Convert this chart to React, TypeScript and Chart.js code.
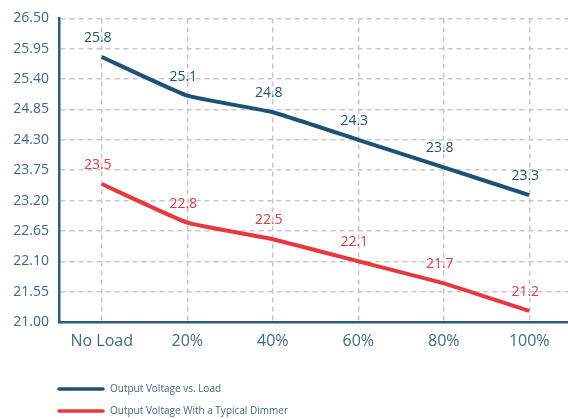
import React, { useEffect, useRef } from "react";
import { Chart, registerables } from "chart.js";

Chart.register(...registerables);

const categories = ["No Load", "20%", "40%", "60%", "80%", "100%"];
const loadSeries = [25.8, 25.1, 24.8, 24.3, 23.8, 23.3];
const dimmerSeries = [23.5, 22.8, 22.5, 22.1, 21.7, 21.2];
const seriesLabels = ["Output Voltage vs. Load", "Output Voltage With a Typical Dimmer"];
const yMin = 21.0;
const yMax = 26.5;
const yStep = 0.55;

const BLUE = "#1f5174";
const RED = "#e8383d";
const TEXT = "#41698a";
const AXIS = "#2e5d7e";
const FONT = "'Open Sans', sans-serif";

const labelPlugin = {
  id: "pointLabels",
  afterDatasetsDraw(chart: any) {
    const ctx = chart.ctx;
    ctx.save();
    ctx.font = `14px ${FONT}`;
    ctx.textAlign = "center";
    ctx.textBaseline = "middle";
    chart.data.datasets.forEach((ds: any, i: number) => {
      const meta = chart.getDatasetMeta(i);
      ctx.fillStyle = ds.borderColor;
      meta.data.forEach((pt: any, j: number) => {
        ctx.fillText(ds.data[j].toFixed(1), pt.x - 4, pt.y - 19);
      });
    });
    ctx.restore();
  },
};

const legendPlugin = {
  id: "stackLegend",
  afterDraw(chart: any) {
    const ctx = chart.ctx;
    ctx.save();
    ctx.font = `10px ${FONT}`;
    ctx.textBaseline = "middle";
    ctx.textAlign = "left";
    chart.data.datasets.forEach((ds: any, i: number) => {
      const y = 389 + i * 22;
      ctx.strokeStyle = ds.borderColor;
      ctx.lineWidth = 3.5;
      ctx.lineCap = "round";
      ctx.beginPath();
      ctx.moveTo(59, y);
      ctx.lineTo(103, y);
      ctx.stroke();
      ctx.fillStyle = TEXT;
      ctx.fillText(ds.label, 110, y);
    });
    ctx.restore();
  },
};

export default function App() {
  const ref = useRef<HTMLCanvasElement>(null);
  useEffect(() => {
    if (!ref.current) return;
    const chart = new Chart(ref.current, {
      type: "line",
      data: {
        labels: categories,
        datasets: [
          {
            label: seriesLabels[0],
            data: loadSeries,
            borderColor: BLUE,
            backgroundColor: BLUE,
            borderWidth: 4,
            pointRadius: 0,
            tension: 0.12,
          },
          {
            label: seriesLabels[1],
            data: dimmerSeries,
            borderColor: RED,
            backgroundColor: RED,
            borderWidth: 4,
            pointRadius: 0,
            tension: 0.12,
          },
        ],
      },
      options: {
        animation: false,
        responsive: false,
        maintainAspectRatio: false,
        layout: { padding: { top: 16, bottom: 57, left: 0, right: 0 } },
        plugins: { legend: { display: false }, tooltip: { enabled: false } },
        scales: {
          x: {
            offset: true,
            afterFit: (s: any) => {
              s.height = 40;
            },
            grid: {
              color: "#c8c8c8",
              lineWidth: 1.5,
              drawTicks: false,
              offset: false,
            },
            border: { color: AXIS, width: 2.5, dash: [5, 4] },
            ticks: { color: TEXT, font: { family: FONT, size: 16 }, padding: 10 },
          },
          y: {
            min: yMin,
            max: yMax,
            afterFit: (s: any) => {
              s.width = 59;
            },
            afterBuildTicks: (s: any) => {
              const t = [];
              for (let i = 0; i <= 10; i++) t.push({ value: +(yMin + i * yStep).toFixed(2) });
              s.ticks = t;
            },
            grid: { color: "#c8c8c8", lineWidth: 1.5, drawTicks: false },
            border: { color: AXIS, width: 2.5, dash: [5, 4] },
            ticks: {
              color: TEXT,
              font: { family: FONT, size: 14 },
              padding: 10,
              callback: (v: any) => Number(v).toFixed(2),
            },
          },
        },
      },
      plugins: [labelPlugin, legendPlugin],
    });
    return () => chart.destroy();
  }, []);
  return (
    <div style={{ position: "fixed", left: 0, top: 0, width: 572, height: 419, background: "#fff" }}>
      <canvas ref={ref} width={572} height={419} style={{ width: 572, height: 419 }} />
    </div>
  );
}
